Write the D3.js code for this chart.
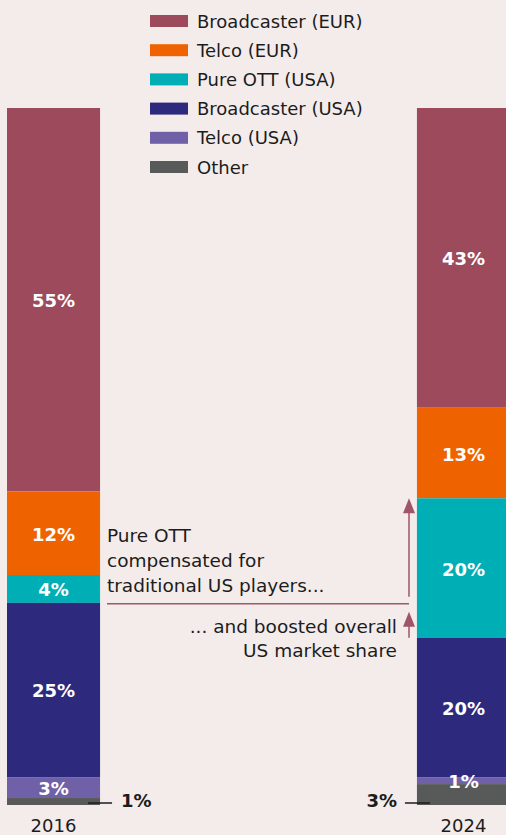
<!DOCTYPE html>
<html>
  <head>
    <meta charset="utf-8"/>
    <title>Market share by player type, 2016 vs 2024</title>
    <style type="text/css">
body {
  margin: 0;
  background: #f4eceb;
}
svg {
  display: block;
  font-family: "DejaVu Sans", sans-serif;
}
.legend text, .note, .year {
  fill: #1c1c1c;
}
.inbar {
  fill: #fff;
  font-weight: bold;
}
.outbar {
  fill: #1c1c1c;
  font-weight: bold;
}
    </style>
  </head>
  <body>
    <div id="chart"></div>
    <script src="https://cdn.jsdelivr.net/npm/d3@7"></script>
    <script>
    const years = ["2016", "2024"];
    const segments = ["Broadcaster (EUR)", "Telco (EUR)", "Pure OTT (USA)", "Broadcaster (USA)", "Telco (USA)", "Other"];
    const colors = ["#9c4a5c", "#ee6300", "#00aeb6", "#2d297d", "#7060a8", "#575a58"];
    const share2016 = [55, 12, 4, 25, 3, 1];
    const share2024 = [43, 13, 20, 20, 1, 3];
    const noteTop = ["Pure OTT", "compensated for", "traditional US players..."];
    const noteBottom = ["... and boosted overall", "US market share"];

    const width = 506, height = 835;
    const svg = d3.select("#chart").append("svg")
        .attr("width", width)
        .attr("height", height);

    const x = d3.scaleBand()
        .domain(years)
        .range([7, 510])
        .paddingInner(0.773);
    const y = d3.scaleLinear()
        .domain([0, 100])
        .range([108, 805]);

    // stack from the top down
    function stackUp(vals) {
      let acc = 0;
      return vals.map((v, i) => {
        const d = {key: segments[i], value: v, y0: acc, y1: acc + v, color: colors[i]};
        acc += v;
        return d;
      });
    }
    const bars = [
      {year: "2016", parts: stackUp(share2016)},
      {year: "2024", parts: stackUp(share2024)}
    ];

    const g = svg.selectAll(".bar")
        .data(bars)
        .enter()
        .append("g")
        .attr("class", "bar");

    g.selectAll("rect")
        .data(d => d.parts.map(p => Object.assign({year: d.year}, p)))
        .enter()
        .append("rect")
        .attr("x", d => x(d.year))
        .attr("width", x.bandwidth())
        .attr("y", d => y(d.y0))
        .attr("height", d => y(d.y1) - y(d.y0))
        .attr("fill", d => d.color);

    // labels inside the bar (everything but "Other")
    g.selectAll(".inbar")
        .data(d => d.parts.filter(p => p.key !== "Other").map(p => Object.assign({year: d.year}, p)))
        .enter()
        .append("text")
        .attr("class", "inbar")
        .attr("x", d => x(d.year) + x.bandwidth() / 2)
        .attr("y", d => (y(d.y0) + y(d.y1)) / 2 + 7.5)
        .attr("text-anchor", "middle")
        .style("font-size", "18px")
        .text(d => d.value + "%");

    // "Other" gets a callout outside the bar
    const other2016 = bars[0].parts[5], other2024 = bars[1].parts[5];
    const lineY = y(100) - 2;
    svg.append("line")
        .attr("x1", x("2016") + x.bandwidth() - 12).attr("x2", x("2016") + x.bandwidth() + 12)
        .attr("y1", lineY).attr("y2", lineY)
        .attr("stroke", "#1c1c1c").attr("stroke-width", 1.5);
    svg.append("text")
        .attr("class", "outbar")
        .attr("x", x("2016") + x.bandwidth() + 21)
        .attr("y", lineY + 4)
        .style("font-size", "18px")
        .text(other2016.value + "%");
    svg.append("line")
        .attr("x1", x("2024") - 12).attr("x2", x("2024") + 13)
        .attr("y1", lineY).attr("y2", lineY)
        .attr("stroke", "#1c1c1c").attr("stroke-width", 1.5);
    svg.append("text")
        .attr("class", "outbar")
        .attr("x", x("2024") - 20)
        .attr("y", lineY + 4)
        .attr("text-anchor", "end")
        .style("font-size", "18px")
        .text(other2024.value + "%");

    // year labels
    svg.selectAll(".year")
        .data(years)
        .enter()
        .append("text")
        .attr("class", "year")
        .attr("x", d => x(d) + x.bandwidth() / 2)
        .attr("y", 832)
        .attr("text-anchor", "middle")
        .style("font-size", "18px")
        .text(d => d);

    // legend
    const legend = svg.append("g").attr("class", "legend");
    const row = legend.selectAll("g")
        .data(segments)
        .enter()
        .append("g")
        .attr("transform", (d, i) => "translate(150," + (21 + i * 29.2) + ")");
    row.append("rect")
        .attr("y", -6)
        .attr("width", 38)
        .attr("height", 12)
        .attr("fill", (d, i) => colors[i]);
    row.append("text")
        .attr("x", 47)
        .attr("y", 6.5)
        .style("font-size", "18px")
        .text(d => d);

    // annotation
    const ott2016 = bars[0].parts[2], ott2024 = bars[1].parts[2];
    const noteY = y(ott2016.y1) + 1;
    const arrowX = 409;
    const accent = "#a05468";

    function arrowUp(tipY, fromY) {
      svg.append("line")
          .attr("x1", arrowX).attr("x2", arrowX)
          .attr("y1", fromY).attr("y2", tipY + 10)
          .attr("stroke", accent).attr("stroke-width", 1.5);
      svg.append("path")
          .attr("d", "M" + arrowX + "," + tipY + " L" + (arrowX + 6) + "," + (tipY + 15) +
                " L" + (arrowX - 6) + "," + (tipY + 15) + " Z")
          .attr("fill", accent);
    }

    svg.append("line")
        .attr("x1", 107).attr("x2", arrowX)
        .attr("y1", noteY).attr("y2", noteY)
        .attr("stroke", accent).attr("stroke-width", 1.5);
    arrowUp(y(ott2024.y0), noteY - 7);
    arrowUp(noteY + 8, y(ott2024.y1));

    svg.selectAll(".note-top")
        .data(noteTop)
        .enter()
        .append("text")
        .attr("class", "note")
        .attr("x", 107)
        .attr("y", (d, i) => 542 + i * 25)
        .style("font-size", "18.5px")
        .text(d => d);
    svg.selectAll(".note-bottom")
        .data(noteBottom)
        .enter()
        .append("text")
        .attr("class", "note")
        .attr("x", 397)
        .attr("y", (d, i) => 633 + i * 24)
        .attr("text-anchor", "end")
        .style("font-size", "18.5px")
        .text(d => d);
    </script>
  </body>
</html>
